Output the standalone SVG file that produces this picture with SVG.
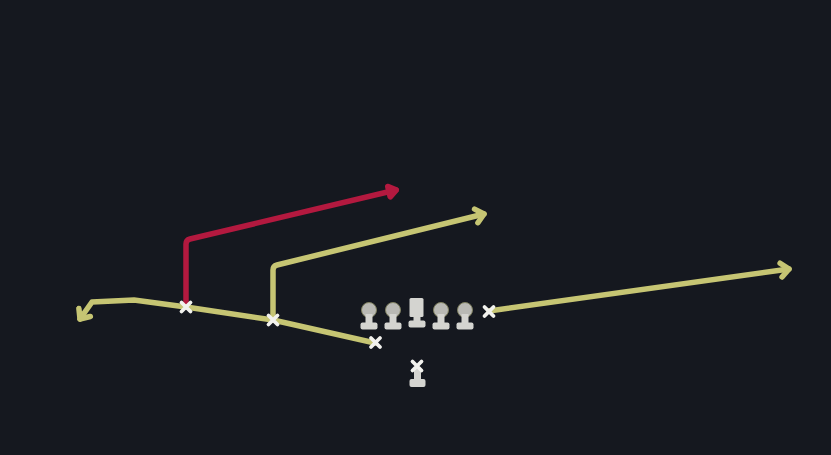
<svg xmlns="http://www.w3.org/2000/svg" width="831" height="455" viewBox="0 0 831 455">
<style>
.route{fill:none;stroke-width:5.5;stroke-linejoin:round;stroke-linecap:round}
.y{stroke:#c6c573}
.r{stroke:#b3193f}
.x{stroke:#f2f2ee;stroke-width:3.8;stroke-linecap:round}
.pin{fill:#d4d4d0}
.head{fill:#b9b9b4;stroke:#7f8060;stroke-width:1}
</style>
<defs>
<marker id="ay" markerUnits="userSpaceOnUse" viewBox="-14 -10 20 20" markerWidth="20" markerHeight="20" refX="0" refY="0" orient="auto">
<path d="M-8,-7 L0,0 L-8,7" fill="none" stroke="#c6c573" stroke-width="5.5" stroke-linecap="round" stroke-linejoin="round"/>
</marker>
<marker id="ar" markerUnits="userSpaceOnUse" viewBox="-14 -10 20 20" markerWidth="20" markerHeight="20" refX="0" refY="0" orient="auto">
<path d="M-7,-5 L0,0 L-7,5 Z" fill="#b3193f" stroke="#b3193f" stroke-width="6" stroke-linejoin="round"/>
</marker>
<g id="xmark"><path class="x" d="M-4.5,-4.5 L4.5,4.5 M4.5,-4.5 L-4.5,4.5"/></g>
<g id="lineman">
<circle class="head" cx="0" cy="0" r="7.5"/>
<rect class="pin" x="-3.5" y="4" width="7" height="12"/>
<rect class="pin" x="-8.5" y="12.5" width="17" height="7" rx="2"/>
</g>
</defs>
<rect width="831" height="455" fill="#15181f"/>
<g id="connectors">
<path class="route r" d="M186,307 L186,244 Q186,240 190,239 L396,190" marker-end="url(#ar)"/>
<path class="route y" d="M273,320 L273,270 Q273,266 277,265 L484,214" marker-end="url(#ay)"/>
<path class="route y" d="M375,343 L273,320 L186,307 L134,300 L92,302 L80,319" marker-end="url(#ay)"/>
<path class="route y" d="M489,311 L789,269" marker-end="url(#ay)"/>
</g>
<g id="lt"><use href="#lineman" x="369" y="310"/></g>
<g id="lg"><use href="#lineman" x="393" y="310"/></g>
<g id="center">
<rect class="pin" x="409.5" y="298" width="14" height="19" rx="1.5"/>
<rect class="pin" x="413.5" y="314" width="7" height="10"/>
<rect class="pin" x="408.5" y="320.5" width="17" height="7" rx="2"/>
</g>
<g id="rg"><use href="#lineman" x="441" y="310"/></g>
<g id="rt"><use href="#lineman" x="465" y="310"/></g>
<g id="qb">
<rect class="pin" x="414" y="368" width="7" height="14"/>
<rect class="pin" x="409.5" y="379" width="16" height="8" rx="2"/>
<use href="#xmark" x="417" y="366"/>
</g>
<g id="wr1"><use href="#xmark" x="186" y="307"/></g>
<g id="wr2"><use href="#xmark" x="273" y="320"/></g>
<g id="te"><use href="#xmark" x="375.5" y="342.5"/></g>
<g id="wr3"><use href="#xmark" x="489" y="311.5"/></g>
</svg>
